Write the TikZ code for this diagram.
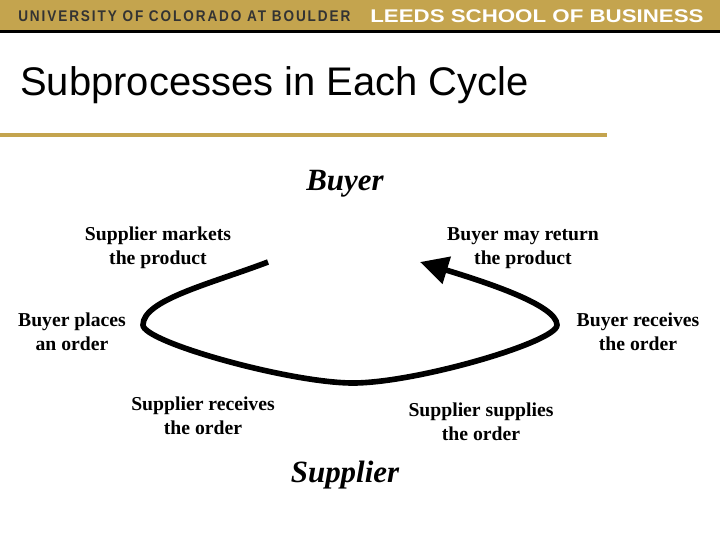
\documentclass[tikz,border=0pt]{standalone}
\usepackage{fontspec}
\setmainfont{Liberation Serif}
\newfontfamily\titlefont{Liberation Sans}
\newfontfamily\univfont[LetterSpace=14]{Liberation Sans}
\usetikzlibrary{arrows.meta}
\definecolor{leedsgold}{RGB}{196,164,78}
\newcommand{\stepnode}{\node[align=center,font=\bfseries\fontsize{14}{17}\selectfont]}
\newcommand{\rolenode}{\node[font=\bfseries\itshape\fontsize{22}{26}\selectfont]}

\begin{document}
\begin{tikzpicture}[x=0.025cm,y=-0.025cm]
        \useasboundingbox (0,0) rectangle (720,540);
        % header band
        \fill[leedsgold] (0,0) rectangle (720,30);
        \fill[black] (0,30) rectangle (720,33);
        \node[anchor=west,inner sep=0,text=black!80] (univ) at (18,16.5) {\resizebox{8.3cm}{0.27cm}{\univfont\bfseries UNIVERSITY OF COLORADO AT BOULDER}};
        \node[anchor=west,inner sep=0,text=white] (leeds) at (370,16.5) {\resizebox{8.33cm}{0.32cm}{\titlefont\bfseries LEEDS SCHOOL OF BUSINESS}};
        \node[anchor=base west,inner sep=0,font=\titlefont\fontsize{28.4}{32}\selectfont] (title) at (20,95) {Subprocesses in Each Cycle};
        \draw[leedsgold,line width=2.2pt] (0,135) -- (607,135);
        % roles
        \rolenode (buyer) at (345,184) {Buyer}; %
        \rolenode (supplier) at (345,475) {Supplier}; %
        % steps
        \stepnode (markets) at (158,248) {Supplier markets\\the product}; %
        \stepnode (return) at (523,248) {Buyer may return\\the product}; %
        \stepnode (places) at (72,332) {Buyer places\\an order}; %
        \stepnode (breceives) at (638,332) {Buyer receives\\the order}; %
        \stepnode (sreceives) at (203,416) {Supplier receives\\the order}; %
        \stepnode (supplies) at (481,422) {Supplier supplies\\the order}; %
        % cycle
        \coordinate (a) at (268,262);
        \coordinate (l) at (143,325);
        \coordinate (b) at (353,383);
        \coordinate (r) at (557,325);
        \coordinate (e) at (420,262);
        \draw[line width=4pt,-{Triangle[length=7mm,width=6.8mm]}] (a) .. controls (210,284) and (143,300) .. (l)
          .. controls (143,342) and (290,383) .. (b)
          .. controls (416,383) and (557,342) .. (r)
          .. controls (557,305) and (485,282) .. (e);
      \end{tikzpicture}
\end{document}
